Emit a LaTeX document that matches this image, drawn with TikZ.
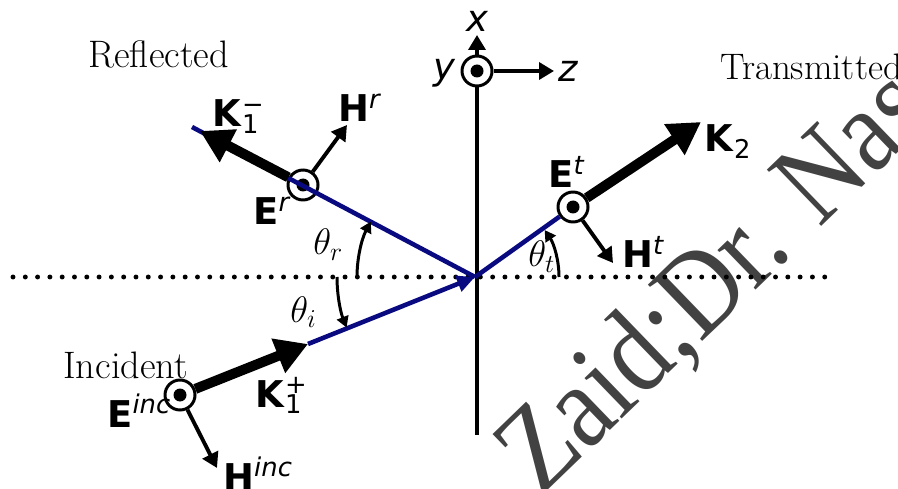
\RequirePackage{fix-cm}
\documentclass[tikz,border=0pt]{standalone}
\usepackage{fontspec}
\setsansfont{DejaVu Sans}
\newfontfamily\markfont{Liberation Serif}
\usetikzlibrary{arrows.meta}

\definecolor{beamblue}{RGB}{10,10,128}
\definecolor{markgray}{RGB}{66,66,66}

\begin{document}
\begin{tikzpicture}[x=0.02cm, y=-0.02cm,
    beam/.style={draw=beamblue, line width=2.6pt},
    kvec/.style={line width=5.7pt, -{Triangle[length=0.64cm,width=0.7cm]}},
    hvec/.style={line width=2.2pt, -{Triangle[length=0.3cm,width=0.34cm]}},
    axarrow/.style={line width=2pt, -{Triangle[length=0.3cm,width=0.34cm]}},
    angmark/.style={line width=1.7pt, -{Triangle[length=0.22cm,width=0.24cm]}},
    pol/.style={circle, draw, fill=white, line width=1.7pt, minimum size=0.6cm,
        inner sep=0pt},
    lbl/.style={font=\fontsize{21}{25}\selectfont\sffamily, inner sep=0pt,
        anchor=base west},
    word/.style={font=\fontsize{21.8}{26}\selectfont, inner sep=0pt,
        anchor=base west} ]

    \useasboundingbox (0,0) rectangle (898,489);

    % watermark
    \node[font=\markfont\fontsize{68}{68}\selectfont, text=markgray,
    rotate=44, anchor=base west, inner sep=0pt] (mark) at (541,497)
    {\scalebox{0.875}[1]{Zaid;Dr. Nas}};

    % points
    \coordinate (O) at (475,277);
    \coordinate (dotL) at (13,277); \coordinate (dotR) at (826,277);
    \coordinate (axbot) at (477,435);
    \coordinate (xtip) at (477,35); \coordinate (ztip) at (554,71);
    \coordinate (rEnd) at (192,127);
    \coordinate (Kitip) at (308,344); \coordinate (Krtip) at (200,131);
    \coordinate (Kttip) at (701,122);
    \coordinate (Hitip) at (217,468); \coordinate (Hrtip) at (347,125);
    \coordinate (Httip) at (613,263);

    % polarisation circles
    \node[pol] (yax) at (477,71) {}; \node[pol] (Ei) at (180,395) {};
    \node[pol] (Er) at (303,185) {}; \node[pol] (Et) at (573,207) {};
    \foreach \p in {yax,Ei,Er,Et} \fill (\p) circle (0.13cm);

    \draw[line width=2.8pt, line cap=round, dash pattern=on 0pt off 7pt]
    (dotL) -- (dotR);
    \draw[line width=2.4pt] (yax) -- (axbot);
    \draw[axarrow] (yax) -- (xtip); \draw[axarrow] (yax) -- (ztip);

    \draw[beam, -{Triangle[length=0.36cm,width=0.32cm]}] (Kitip) -- (O);
    \draw[beam] (O) -- (rEnd); \draw[beam] (O) -- (Et);

    \draw[kvec] (Ei) -- (Kitip); \draw[kvec] (Er) -- (Krtip);
    \draw[kvec] (Et) -- (Kttip);
    \draw[hvec] (Ei) -- (Hitip); \draw[hvec] (Er) -- (Hrtip);
    \draw[hvec] (Et) -- (Httip);

    % angles
    \draw[angmark] (357,277) arc[start angle=180, end angle=208, radius=118];
    \draw[angmark] (337,277) arc[start angle=180, end angle=158.5, radius=138];
    \draw[angmark] (559,277) arc[start angle=0, end angle=-34, radius=84];

    % labels
    \node[lbl] (Klm) at (212,127) {\textbf{K}\rlap{\textsuperscript{−}}\textsubscript{1}};
    \node[lbl] (Hrl) at (338,122) {\textbf{H}\textsuperscript{\itshape r}};
    \node[lbl] (Erl) at (253,225) {\textbf{E}\textsuperscript{\itshape r}};
    \node[lbl] (Etl) at (548,188) {\textbf{E}\textsuperscript{\itshape t}};
    \node[lbl] (Ktl) at (704,152) {\textbf{K}\textsubscript{2}};
    \node[lbl] (Htl) at (622,268) {\textbf{H}\textsuperscript{\itshape t}};
    \node[lbl] (Eil) at (107,427) {\textbf{E}\textsuperscript{\itshape inc}};
    \node[lbl] (Kpl) at (255,407) {\textbf{K}\rlap{\textsuperscript{+}}\textsubscript{1}};
    \node[lbl] (Hil) at (223,490) {\textbf{H}\textsuperscript{\itshape inc}};
    \node[lbl] (thr) at (313,255) {$\theta_r$};
    \node[lbl] (thi) at (290,322) {$\theta_i$};
    \node[lbl] (tht) at (528,267) {$\theta_t$};
    \node[lbl, anchor=base] (xl) at (477,32) {\itshape x};
    \node[lbl, anchor=base east] (yl) at (456,80) {\itshape y};
    \node[lbl] (zl) at (558,82) {\itshape z};
    \node[word] (refl) at (88,68) {Reflected};
    \node[word] (inci) at (63,378) {Incident};
    \node[word, font=\fontsize{21}{25}\selectfont] (tran) at (720,80)
    {Transmitted};

\end{tikzpicture}
\end{document}
